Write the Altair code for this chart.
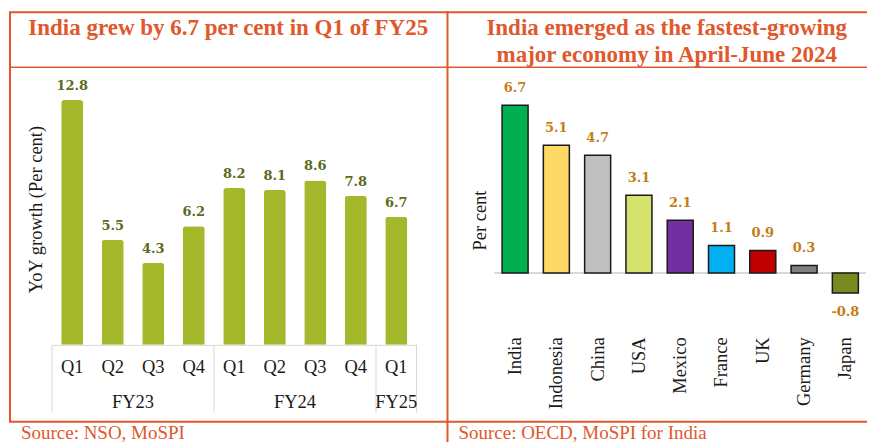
import altair as alt
import pandas as pd

# ---------------- data ----------------
quarters = ["Q1", "Q2", "Q3", "Q4", "Q1", "Q2", "Q3", "Q4", "Q1"]
fiscal_years = ["FY23", "FY23", "FY23", "FY23", "FY24", "FY24", "FY24", "FY24", "FY25"]
growth = [12.8, 5.5, 4.3, 6.2, 8.2, 8.1, 8.6, 7.8, 6.7]

countries = ["India", "Indonesia", "China", "USA", "Mexico", "France", "UK", "Germany", "Japan"]
country_growth = [6.7, 5.1, 4.7, 3.1, 2.1, 1.1, 0.9, 0.3, -0.8]
country_colors = ["#00b050", "#ffd966", "#bfbfbf", "#d6e26e", "#7030a0",
                  "#00b0f0", "#c00000", "#7f7f7f", "#7b8a1f"]

left_title = "India grew by 6.7 per cent in Q1 of FY25"
right_title = ["India emerged as the fastest-growing", "major economy in April-June 2024"]
left_source = "Source: NSO, MoSPI"
right_source = "Source: OECD, MoSPI for India"
left_ytitle = "YoY growth (Per cent)"
right_ytitle = "Per cent"

# ---------------- tables ----------------
periods = [f"{q} {fy}" for q, fy in zip(quarters, fiscal_years)]
q_df = pd.DataFrame({"period": periods, "quarter": quarters, "fy": fiscal_years, "growth": growth,
                     "label": [f"{v:.1f}" for v in growth]})

fy_names, fy_start, fy_count = [], [], []
for i, fy in enumerate(fiscal_years):
    if not fy_names or fy_names[-1] != fy:
        fy_names.append(fy)
        fy_start.append(i)
        fy_count.append(0)
    fy_count[-1] += 1
fy_df = pd.DataFrame({"fy": fy_names, "start": fy_start, "count": fy_count})
sep_df = pd.DataFrame({"b": fy_start + [len(fiscal_years)]})

c_df = pd.DataFrame({"country": countries, "value": country_growth,
                     "label": [f"{v:.1f}" for v in country_growth]})
one = pd.DataFrame({"a": [0]})

# ---------------- styles ----------------
serif = "Liberation Serif"
orange = "#e0582c"
ink = "#1a1a1a"
W1, H1 = 365, 277
W2, H2 = 372, 254


def hline(y, x1, x2, w=2, color=orange):
    return alt.Chart(one).mark_rule(color=color, strokeWidth=w).encode(
        x=alt.value(x1), x2=alt.value(x2), y=alt.value(y))


def vline(x, y1, y2, w=2, color=orange):
    return alt.Chart(one).mark_rule(color=color, strokeWidth=w).encode(
        x=alt.value(x), y=alt.value(y1), y2=alt.value(y2))


# ---------------- left panel ----------------
x1 = alt.X("period:N", sort=periods,
           scale=alt.Scale(paddingInner=0.457, paddingOuter=0.2285),
           axis=alt.Axis(title=None, labelExpr="split(datum.label, ' ')[0]", labelAngle=0,
                         labelFont=serif, labelFontSize=18.5, labelColor=ink, labelPadding=13,
                         ticks=False, domainColor="#d9d9d9", domainWidth=1, grid=False,
                         labelOverlap=False))
y1 = alt.Y("growth:Q", scale=alt.Scale(domain=[0, 14.47], nice=False),
           axis=alt.Axis(title=left_ytitle, labels=False, ticks=False, domain=False, grid=False,
                         titleFont=serif, titleFontSize=18.5, titleFontWeight="normal",
                         titleColor=ink, titlePadding=6, titleY=141))

bars1 = alt.Chart(q_df).mark_bar(color="#a5b82b", cornerRadiusTopLeft=3,
                                 cornerRadiusTopRight=3).encode(x=x1, y=y1)
vals1 = alt.Chart(q_df).mark_text(dy=-14, font="DejaVu Serif", fontWeight="bold", fontSize=13,
                                  color="#5b6b1c", baseline="middle").encode(
    x=alt.X("period:N", sort=periods), y="growth:Q", text="label:N")
main1 = alt.layer(bars1, vals1)

qscale = alt.Scale(domain=[0, len(fiscal_years)], nice=False, zero=False)
fy_text = alt.Chart(fy_df).transform_calculate(center="datum.start + datum.count / 2").mark_text(
    font=serif, fontSize=18.5, color=ink, baseline="alphabetic").encode(
    x=alt.X("center:Q", scale=qscale, axis=None), y=alt.value(340), text="fy:N")
seps = alt.Chart(sep_df).mark_rule(color="#d9d9d9", strokeWidth=1).encode(
    x=alt.X("b:Q", scale=qscale, axis=None), y=alt.value(H1), y2=alt.value(345))
groups1 = alt.layer(seps, fy_text)

title1 = alt.Chart(one).mark_text(text=left_title, font=serif, fontSize=23, fontWeight="bold",
                                  color=orange, align="center", baseline="alphabetic").encode(
    x=alt.value(176.5), y=alt.value(-33))
src1 = alt.Chart(one).mark_text(text=left_source, font=serif, fontSize=19, color=orange,
                                align="left", baseline="alphabetic").encode(
    x=alt.value(-31), y=alt.value(371))

left = alt.layer(
    main1, groups1, title1, src1,
    hline(-56, -43, 397), vline(-42, -56, 354), hline(354, -43, 397),
    hline(-1, -42, 396, w=1.5), vline(396, -56, 376),
).resolve_scale(x="independent").properties(width=W1, height=H1)

# ---------------- right panel ----------------
ymax = 205 / 25.07
ymin = -(H2 - 205) / 25.07
x2 = alt.X("country:N", sort=countries,
           scale=alt.Scale(paddingInner=0.37, paddingOuter=0.185),
           axis=alt.Axis(title=None, labelAngle=270, labelFont=serif, labelFontSize=18.5,
                         labelColor=ink, labelPadding=15, ticks=False, domain=False, grid=False,
                         labelOverlap=False))
y2 = alt.Y("value:Q", scale=alt.Scale(domain=[ymin, ymax], nice=False, zero=False),
           axis=alt.Axis(title=right_ytitle, labels=False, ticks=False, domain=False, grid=False,
                         titleFont=serif, titleFontSize=18.5, titleFontWeight="normal",
                         titleColor=ink, titlePadding=5, titleY=152))

zero = alt.Chart(one).mark_rule(color="#d9d9d9", strokeWidth=2).encode(y=alt.datum(0))
bars2 = alt.Chart(c_df).mark_bar(stroke="#1a1a1a", strokeWidth=1.5).encode(
    x=x2, y=y2,
    color=alt.Color("country:N", scale=alt.Scale(domain=countries, range=country_colors),
                    legend=None))
lab_style = dict(font="DejaVu Serif", fontWeight="bold", fontSize=13, color="#c47e16",
                 baseline="middle")
pos2 = alt.Chart(c_df).transform_filter("datum.value >= 0").mark_text(dy=-17, **lab_style).encode(
    x=alt.X("country:N", sort=countries), y="value:Q", text="label:N")
neg2 = alt.Chart(c_df).transform_filter("datum.value < 0").mark_text(dy=19, **lab_style).encode(
    x=alt.X("country:N", sort=countries), y="value:Q", text="label:N")

title2 = alt.Chart(one).mark_text(text=right_title, font=serif, fontSize=23, fontWeight="bold",
                                  color=orange, align="center", baseline="alphabetic",
                                  lineHeight=26.7).encode(
    x=alt.value(172.5), y=alt.value(-33))
src2 = alt.Chart(one).mark_text(text=right_source, font=serif, fontSize=19, color=orange,
                                align="left", baseline="alphabetic").encode(
    x=alt.value(-36), y=alt.value(371))

right = alt.layer(
    zero, bars2, pos2, neg2, title2, src2,
    hline(-56, -48, 373), hline(354, -48, 373), hline(-1, -47, 373, w=1.5),
).properties(width=W2, height=H2)

chart = alt.hconcat(left, right, spacing=78, bounds="flush").properties(
    padding={"left": 0, "top": 3, "right": -1, "bottom": 0}
).configure_view(stroke=None)

chart.save("out.html", embed_options={"renderer": "svg", "actions": False})
